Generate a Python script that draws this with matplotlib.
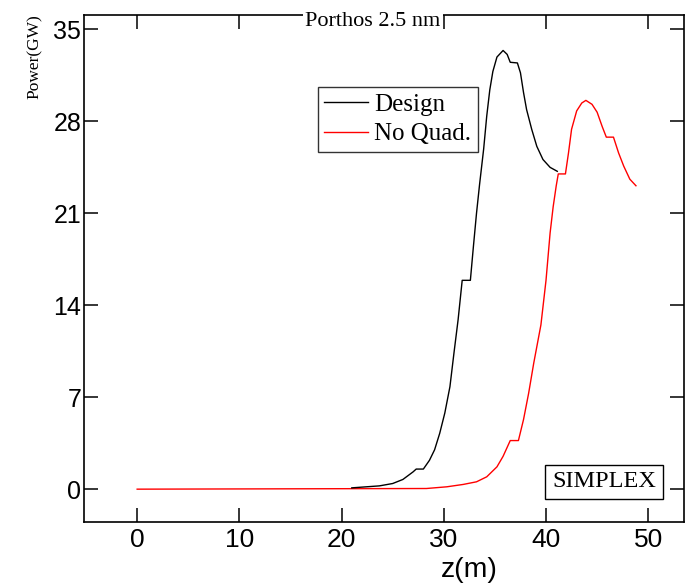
import matplotlib.pyplot as plt

# Design (black) curve
design_z = [21.0, 23.7, 25.0, 26.0, 27.0, 27.3, 28.0, 28.6, 29.1, 29.6, 30.1, 30.6, 31.0, 31.4,
            31.8, 32.6, 32.9, 33.2, 33.5, 33.9, 34.2, 34.5, 34.8, 35.2, 35.8, 36.2, 36.5,
            37.2, 37.5, 37.8, 38.1, 38.6, 39.1, 39.7, 40.4, 41.1]
design_p = [0.1, 0.25, 0.43, 0.74, 1.32, 1.53, 1.53, 2.2, 3.0, 4.25, 5.8, 7.8, 10.4, 12.9,
            15.9, 15.9, 18.5, 21.0, 23.2, 25.9, 28.4, 30.4, 31.8, 32.9, 33.4, 33.1, 32.5,
            32.45, 31.7, 30.2, 28.9, 27.4, 26.1, 25.1, 24.5, 24.2]

# No Quad. (red) curve
noquad_z = [0.0, 28.3, 30.3, 31.9, 33.2, 34.2, 35.2, 35.8, 36.5, 37.3, 37.8, 38.3, 38.8,
            39.5, 40.0, 40.4, 40.7, 41.0, 41.2, 41.9, 42.2, 42.5, 43.0, 43.5, 43.9,
            44.5, 45.0, 45.5, 45.9, 46.6, 47.1, 47.6, 48.2, 48.8]
noquad_p = [0.0, 0.05, 0.18, 0.36, 0.56, 0.94, 1.7, 2.5, 3.7, 3.7, 5.3, 7.3, 9.6,
            12.5, 15.9, 19.5, 21.5, 23.1, 24.0, 24.0, 25.6, 27.4, 28.8, 29.4, 29.6,
            29.3, 28.7, 27.6, 26.8, 26.8, 25.6, 24.6, 23.6, 23.1]

x_ticks = [0, 10, 20, 30, 40, 50]
y_ticks = [0, 7, 14, 21, 28, 35]

fig = plt.figure(figsize=(6.91, 5.83), dpi=100)
ax = fig.add_axes([84 / 691, 1 - 522 / 583, 600 / 691, 507 / 583])

ax.plot(noquad_z, noquad_p, color='red', lw=1.0, label='No Quad.')
ax.plot(design_z, design_p, color='black', lw=1.0, label='Design')

ax.set_xlim(-5.2, 53.5)
ax.set_ylim(-2.5, 36.1)
ax.set_xticks(x_ticks)
ax.set_yticks(y_ticks)
ax.tick_params(direction='in', top=True, right=True, length=10, width=1.1)
ax.tick_params(axis='y', labelsize=18, pad=2)
ax.tick_params(axis='x', labelsize=19, pad=4)
for lab in ax.get_xticklabels() + ax.get_yticklabels():
    lab.set_family('Liberation Sans')
for s in ax.spines.values():
    s.set_linewidth(1.2)

# legend with Design first
h, l = ax.get_legend_handles_labels()
leg = ax.legend(h[::-1], l[::-1], loc='upper left', bbox_to_anchor=(234 / 600, 1 - 72 / 507),
                prop={'family': 'Liberation Serif', 'size': 18}, frameon=True,
                fancybox=False, edgecolor='black', handlelength=1.75,
                handletextpad=0.25, borderpad=0.25, labelspacing=0.28, borderaxespad=0)
leg.get_frame().set_linewidth(1.0)

ax.text(0.953, 0.079, 'SIMPLEX', transform=ax.transAxes, ha='right', va='center',
        family='Liberation Serif', fontsize=17.5,
        bbox=dict(boxstyle='square,pad=0.28', fc='white', ec='black', lw=1.0))

fig.text(373 / 691, 1 - 26 / 583, 'Porthos 2.5 nm', ha='center', va='baseline',
         family='Liberation Serif', fontsize=16,
         bbox=dict(boxstyle='square,pad=0.1', fc='white', ec='none'))
fig.text(35 / 691, 1 - 57 / 583, 'Power(GW)', rotation=90, ha='center', va='center',
         family='Liberation Serif', fontsize=12.5)
fig.text(469 / 691, 1 - 570 / 583, 'z(m)', ha='center', va='center',
         family='Liberation Sans', fontsize=20.5)

fig.savefig('out.png', dpi=100)
